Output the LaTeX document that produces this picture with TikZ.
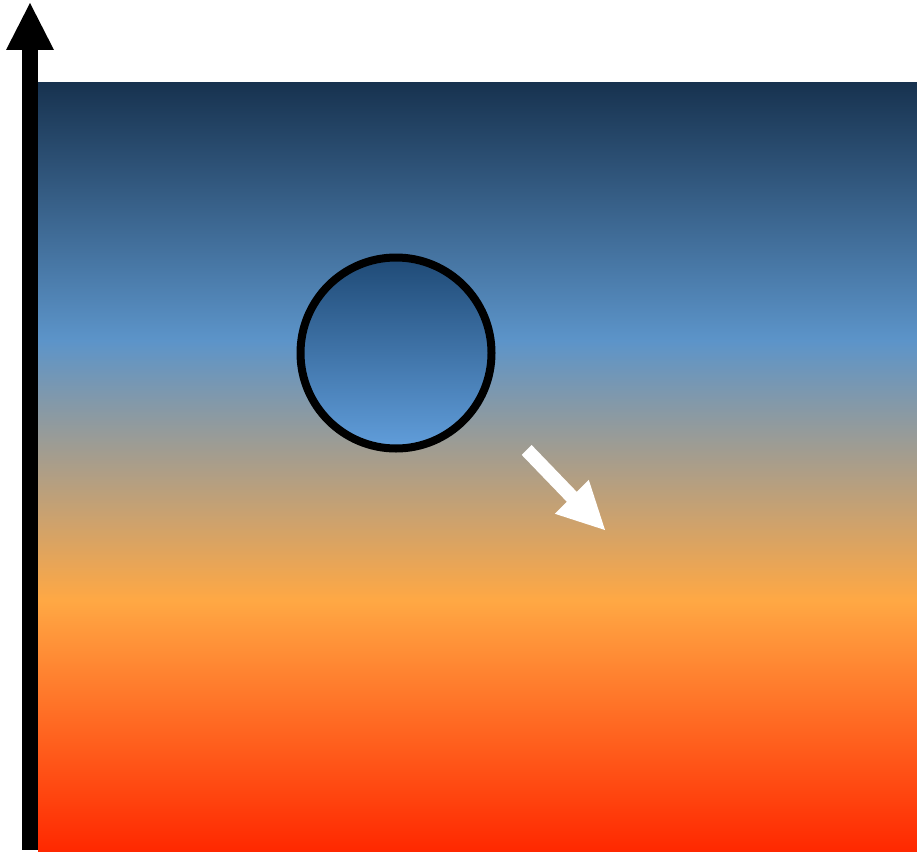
\documentclass[tikz,border=0pt]{standalone}
\definecolor{skytop}{HTML}{17324F}
\definecolor{skyblue}{HTML}{5C94C9}
\definecolor{skyorange}{HTML}{FFA844}
\definecolor{skybot}{HTML}{FF2800}
\definecolor{balltop}{HTML}{1F4A76}
\definecolor{ballbot}{HTML}{619EDB}
\pgfdeclareverticalshading{sky}{100bp}{color(0bp)=(skybot); color(25bp)=(skybot); color(41.3bp)=(skyorange); color(58.2bp)=(skyblue); color(75bp)=(skytop); color(100bp)=(skytop)}
\tikzset{
  ballstyle/.style={circle, draw=black, line width=8pt, inner sep=0pt, minimum size=191pt, top color=balltop, bottom color=ballbot},
}
\begin{document}
\begin{tikzpicture}[x=1pt,y=-1pt]
\useasboundingbox (0,0) rectangle (917,851);
% gradient background
\shade[shading=sky] (38,82) rectangle (917,851);
% vertical axis arrow
\fill[black] (22,49) rectangle (38,850);
\fill[black] (30,3) -- (6,50) -- (54,50) -- cycle;
% ball
\node[ballstyle] (ball) at (396,353) {};
% white motion arrow
\fill[white] (531.65,445.05) -- (576.75,491.85) -- (588.77,479.83) -- (605,530)
  -- (554.83,513.77) -- (566.85,501.75) -- (521.75,454.95) -- cycle;
\end{tikzpicture}
\end{document}
